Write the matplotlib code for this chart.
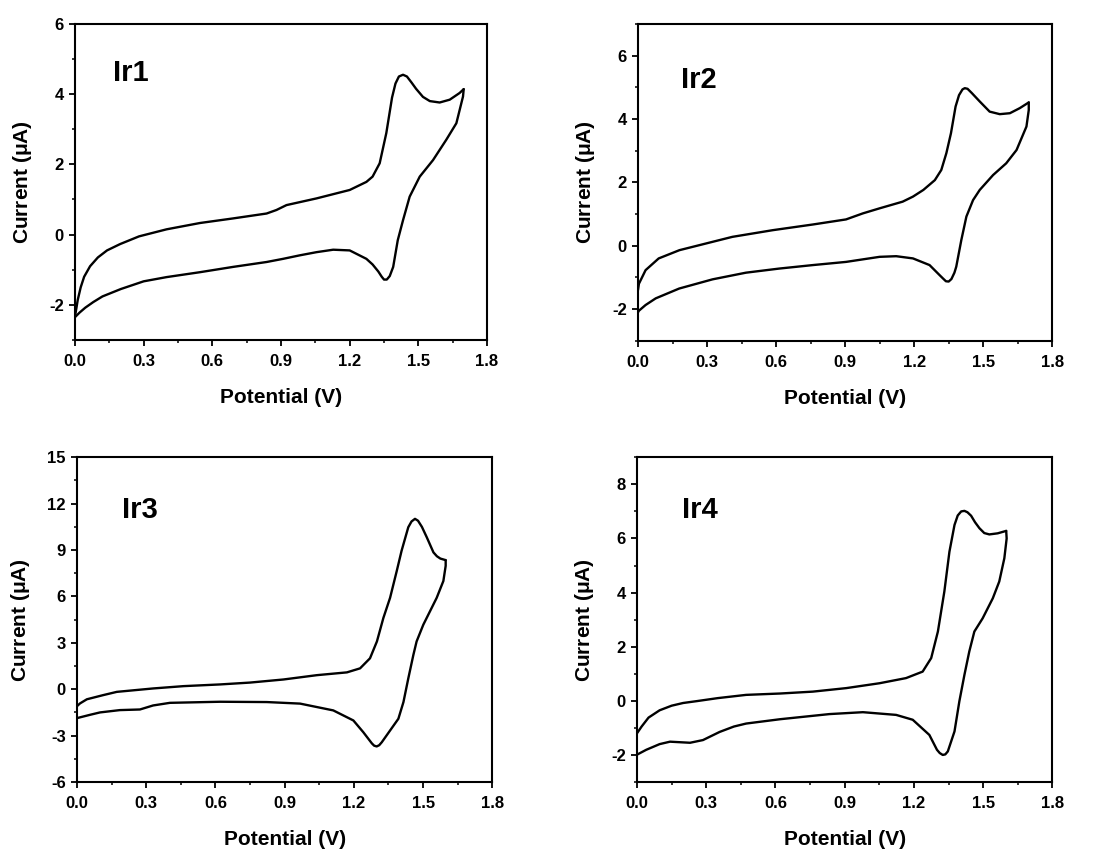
import matplotlib
matplotlib.use("Agg")
import matplotlib.pyplot as plt
from matplotlib.ticker import MultipleLocator

plt.rcParams['font.family'] = ['Liberation Sans', 'DejaVu Sans']
plt.rcParams['font.weight'] = 'bold'
plt.rcParams['axes.unicode_minus'] = False
plt.rcParams['mathtext.fontset'] = 'custom'
plt.rcParams['mathtext.rm'] = 'Liberation Sans'
plt.rcParams['mathtext.default'] = 'regular'

# ---- data (potential V, current uA) ----
ir1_fwd_v = [0.0, 0.006, 0.012, 0.025, 0.04, 0.066, 0.10, 0.14, 0.197, 0.28, 0.40, 0.546, 0.69, 0.837, 0.88, 0.924, 1.055, 1.20, 1.273, 1.30, 1.331, 1.36, 1.385, 1.40, 1.415, 1.433, 1.45, 1.47, 1.49, 1.52, 1.55, 1.593, 1.637, 1.68, 1.698]
ir1_fwd_i = [-2.33, -2.1, -1.86, -1.5, -1.2, -0.9, -0.65, -0.45, -0.27, -0.05, 0.15, 0.33, 0.46, 0.60, 0.70, 0.84, 1.03, 1.27, 1.50, 1.65, 2.03, 2.89, 3.9, 4.3, 4.5, 4.55, 4.5, 4.33, 4.15, 3.92, 3.8, 3.76, 3.84, 4.03, 4.14]
ir1_rev_v = [1.698, 1.695, 1.666, 1.622, 1.564, 1.506, 1.462, 1.433, 1.41, 1.39, 1.375, 1.362, 1.35, 1.34, 1.325, 1.30, 1.273, 1.20, 1.128, 1.055, 0.982, 0.909, 0.837, 0.69, 0.546, 0.40, 0.30, 0.20, 0.12, 0.08, 0.045, 0.02, 0.0]
ir1_rev_i = [4.14, 3.93, 3.17, 2.70, 2.12, 1.65, 1.08, 0.41, -0.16, -0.92, -1.18, -1.28, -1.28, -1.2, -1.05, -0.85, -0.69, -0.45, -0.43, -0.50, -0.59, -0.69, -0.78, -0.92, -1.07, -1.21, -1.33, -1.55, -1.76, -1.92, -2.08, -2.22, -2.35]

ir2_fwd_v = [0.0, 0.004, 0.033, 0.09, 0.18, 0.295, 0.41, 0.585, 0.76, 0.904, 0.977, 1.05, 1.15, 1.195, 1.24, 1.29, 1.318, 1.34, 1.36, 1.38, 1.395, 1.41, 1.42, 1.432, 1.45, 1.485, 1.528, 1.572, 1.616, 1.659, 1.698]
ir2_fwd_i = [-1.4, -1.2, -0.77, -0.40, -0.14, 0.07, 0.28, 0.49, 0.67, 0.83, 1.02, 1.18, 1.39, 1.55, 1.76, 2.07, 2.39, 2.92, 3.55, 4.39, 4.75, 4.93, 4.97, 4.95, 4.82, 4.55, 4.23, 4.15, 4.18, 4.34, 4.52]
ir2_rev_v = [1.698, 1.698, 1.688, 1.645, 1.60, 1.543, 1.485, 1.456, 1.427, 1.405, 1.383, 1.375, 1.362, 1.35, 1.338, 1.325, 1.311, 1.267, 1.195, 1.122, 1.05, 0.977, 0.904, 0.76, 0.614, 0.469, 0.324, 0.179, 0.077, 0.033, 0.004, 0.0]
ir2_rev_i = [4.52, 4.28, 3.76, 3.02, 2.60, 2.23, 1.76, 1.44, 0.92, 0.18, -0.66, -0.85, -1.05, -1.13, -1.12, -1.03, -0.93, -0.61, -0.40, -0.33, -0.35, -0.43, -0.51, -0.61, -0.72, -0.85, -1.06, -1.35, -1.66, -1.87, -2.05, -2.1]

ir3_fwd_v = [0.0, 0.013, 0.043, 0.114, 0.173, 0.33, 0.462, 0.62, 0.75, 0.895, 1.04, 1.17, 1.227, 1.27, 1.30, 1.328, 1.357, 1.386, 1.407, 1.436, 1.45, 1.465, 1.478, 1.495, 1.516, 1.545, 1.56, 1.575, 1.598]
ir3_fwd_i = [-1.1, -0.92, -0.65, -0.38, -0.17, 0.05, 0.20, 0.31, 0.43, 0.63, 0.91, 1.09, 1.35, 2.0, 3.09, 4.61, 5.91, 7.65, 8.96, 10.48, 10.85, 11.02, 10.9, 10.5, 9.83, 8.85, 8.6, 8.45, 8.35]
ir3_rev_v = [1.598, 1.598, 1.588, 1.559, 1.53, 1.501, 1.472, 1.458, 1.436, 1.415, 1.393, 1.357, 1.321, 1.31, 1.299, 1.288, 1.278, 1.241, 1.198, 1.111, 0.967, 0.823, 0.62, 0.403, 0.33, 0.273, 0.186, 0.10, 0.058, 0.013, 0.0]
ir3_rev_i = [8.35, 7.98, 7.0, 5.91, 5.04, 4.17, 3.09, 2.22, 0.70, -0.83, -1.91, -2.67, -3.43, -3.62, -3.70, -3.65, -3.5, -2.78, -2.02, -1.37, -0.93, -0.83, -0.81, -0.88, -1.05, -1.31, -1.35, -1.5, -1.65, -1.82, -1.87]

ir4_fwd_v = [0.0, 0.02, 0.05, 0.098, 0.15, 0.20, 0.26, 0.35, 0.473, 0.62, 0.762, 0.907, 1.051, 1.166, 1.238, 1.275, 1.304, 1.332, 1.354, 1.376, 1.39, 1.405, 1.419, 1.432, 1.448, 1.465, 1.484, 1.505, 1.527, 1.563, 1.60]
ir4_fwd_i = [-1.2, -0.95, -0.62, -0.35, -0.18, -0.08, -0.01, 0.1, 0.22, 0.27, 0.34, 0.47, 0.65, 0.84, 1.08, 1.58, 2.56, 4.04, 5.51, 6.50, 6.85, 7.0, 7.02, 6.97, 6.84, 6.6, 6.38, 6.2, 6.15, 6.19, 6.28]
ir4_rev_v = [1.60, 1.602, 1.592, 1.57, 1.542, 1.498, 1.462, 1.44, 1.419, 1.397, 1.376, 1.347, 1.336, 1.325, 1.312, 1.30, 1.267, 1.195, 1.123, 0.979, 0.834, 0.62, 0.473, 0.42, 0.358, 0.286, 0.23, 0.143, 0.098, 0.04, 0.0]
ir4_rev_i = [6.28, 6.0, 5.27, 4.41, 3.79, 3.05, 2.56, 1.82, 0.96, -0.02, -1.13, -1.87, -1.98, -2.0, -1.93, -1.81, -1.26, -0.70, -0.52, -0.42, -0.49, -0.68, -0.84, -0.95, -1.15, -1.45, -1.55, -1.51, -1.6, -1.81, -1.99]

names = ['Ir1', 'Ir2', 'Ir3', 'Ir4']
ylims = [(-3, 6), (-3, 7), (-6, 15), (-3, 9)]
ymajor = [2, 2, 3, 2]
xtick_vals = [0.0, 0.3, 0.6, 0.9, 1.2, 1.5, 1.8]
xtick_text = ['0.0', '0.3', '0.6', '0.9', '1.2', '1.5', '1.8']

fig = plt.figure(figsize=(10.93, 8.5), dpi=100)
rects = [
    (0.0686, 0.600, 0.377, 0.372),
    (0.5837, 0.599, 0.379, 0.373),
    (0.0704, 0.080, 0.380, 0.382),
    (0.5828, 0.080, 0.380, 0.382),
]
label_pos = [(0.092, 0.845), (0.104, 0.823), (0.108, 0.837), (0.108, 0.837)]
curves = [
    (ir1_fwd_v, ir1_fwd_i, ir1_rev_v, ir1_rev_i),
    (ir2_fwd_v, ir2_fwd_i, ir2_rev_v, ir2_rev_i),
    (ir3_fwd_v, ir3_fwd_i, ir3_rev_v, ir3_rev_i),
    (ir4_fwd_v, ir4_fwd_i, ir4_rev_v, ir4_rev_i),
]

for k in range(4):
    ax = fig.add_axes(rects[k])
    fv, fi, rv, ri = curves[k]
    ax.plot(fv, fi, color='black', lw=1.7, solid_joinstyle='round', solid_capstyle='round')
    ax.plot(rv, ri, color='black', lw=1.7, solid_joinstyle='round', solid_capstyle='round')
    ax.set_xlim(0, 1.8)
    ax.set_ylim(*ylims[k])
    ax.xaxis.set_minor_locator(MultipleLocator(0.15))
    ax.yaxis.set_major_locator(MultipleLocator(ymajor[k]))
    ax.yaxis.set_minor_locator(MultipleLocator(ymajor[k] / 2))
    ax.set_xticks(xtick_vals)
    ax.set_xticklabels(xtick_text)
    for s in ax.spines.values():
        s.set_linewidth(1.5)
    ax.tick_params(which='major', direction='out', length=4, width=1.3,
                   labelsize=12, top=False, right=False)
    ax.tick_params(axis='x', which='major', pad=6)
    ax.tick_params(axis='y', which='major', pad=4)
    ax.tick_params(which='minor', direction='out', length=2.5, width=1.1,
                   top=False, right=False)
    for t in ax.get_xticklabels() + ax.get_yticklabels():
        t.set_fontweight('bold')
    ax.set_xlabel('Potential (V)', fontsize=15, fontweight='bold', labelpad=14)
    ax.set_ylabel(r'Current $\mathregular{(\mu A)}$', fontsize=15, fontweight='bold', labelpad=11)
    ax.text(label_pos[k][0], label_pos[k][1], names[k], transform=ax.transAxes,
            fontsize=21, fontweight='bold', va='center', ha='left')

fig.savefig('out.png', dpi=100)
